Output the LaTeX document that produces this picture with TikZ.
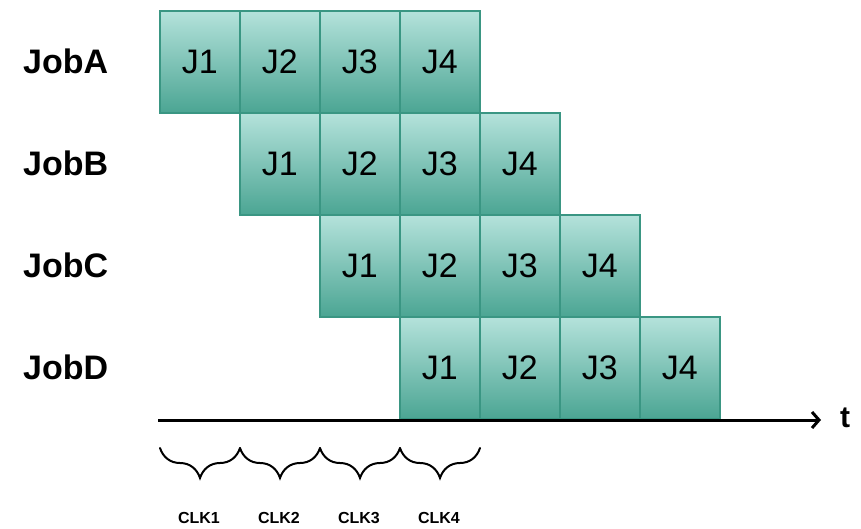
\documentclass[tikz,border=0pt]{standalone}
\usepackage{fontspec}
\setmainfont{Liberation Sans}
\usetikzlibrary{decorations.pathreplacing,arrows.meta}
\definecolor{boxtop}{HTML}{B4E2DB}
\definecolor{boxbot}{HTML}{4BA593}
\definecolor{boxline}{HTML}{3A9683}
\tikzset{
  jbox/.style={anchor=north west, minimum width=80pt, minimum height=102pt, inner sep=0pt,
    top color=boxtop, bottom color=boxbot, draw=boxline, line width=1.8pt,
    font=\fontsize{34}{36}\selectfont},
  joblabel/.style={anchor=west, inner sep=0pt, font=\fontsize{34}{36}\selectfont\bfseries},
  clklabel/.style={inner sep=0pt, font=\fontsize{16}{18}\selectfont\bfseries},
  clkbrace/.style={decorate, decoration={brace, amplitude=30pt, aspect=0.5, mirror}, line width=2pt, line cap=round},
}
\begin{document}
\begin{tikzpicture}[x=1pt,y=-1pt]
\useasboundingbox[fill=white] (0,0) rectangle (861,528);
\foreach \r/\n in {0/A,1/B,2/C,3/D}{
  \node[joblabel] (lab\n) at (23,{61+102*\r}) {Job\n};
  \foreach \c in {1,...,4}{
    \node[jbox] (\n\c) at ({159+80*(\r+\c-1)},{10+102*\r}) {J\c};
  }
}
\coordinate (ax0) at (158,420);
\coordinate (ax1) at (821,420);
\draw[line width=3pt, -{Straight Barb[length=7pt,width=16pt,line width=3pt]}] (ax0) -- (ax1);
\node[inner sep=0pt, font=\fontsize{30}{32}\selectfont\bfseries] (t) at (845,418) {t};
\foreach \k in {1,...,4}{
  \coordinate (b\k a) at ({160+80*(\k-1)},448);
  \coordinate (b\k b) at ({160+80*\k},448);
  \draw[clkbrace] (b\k a) -- (b\k b);
  \node[clklabel] (clk\k) at ({199+80*(\k-1)},518) {CLK\k};
}
\end{tikzpicture}
\end{document}
